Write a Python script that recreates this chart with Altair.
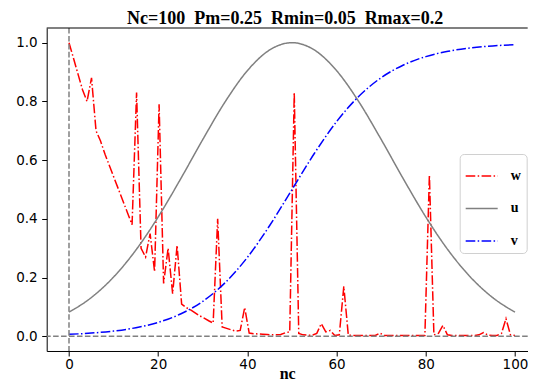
import altair as alt
import numpy as np
import pandas as pd

# x grid of the w series (100 samples between 0 and 100)
nc = [round(float(t), 4) for t in np.linspace(0, 100, 100)]
w = [1.0, 0.947, 0.893, 0.84, 0.80, 0.88, 0.70, 0.665, 0.62, 0.58,
     0.54, 0.50, 0.46, 0.42, 0.38, 0.83, 0.30, 0.27, 0.35, 0.22,
     0.79, 0.18, 0.30, 0.145, 0.31, 0.11, 0.098, 0.09, 0.08, 0.07,
     0.062, 0.053, 0.045, 0.40, 0.032, 0.027, 0.022, 0.018, 0.02, 0.098,
     0.011, 0.009, 0.008, 0.007, 0.006, 0.005, 0.005, 0.006, 0.012, 0.015,
     0.83, 0.01, 0.005, 0.004, 0.004, 0.01, 0.043, 0.015, 0.02, 0.003,
     0.005, 0.17, 0.004, 0.003, 0.003, 0.003, 0.003, 0.003, 0.003, 0.011,
     0.003, 0.003, 0.003, 0.003, 0.003, 0.003, 0.003, 0.003, 0.003, 0.003,
     0.55, 0.005, 0.01, 0.037, 0.005, 0.003, 0.003, 0.003, 0.003, 0.003,
     0.003, 0.005, 0.013, 0.004, 0.003, 0.003, 0.01, 0.06, 0.005, 0.003]

nc5 = [0, 5, 10, 15, 20, 25, 30, 35, 40, 45, 50, 55, 60, 65, 70, 75, 80, 85, 90, 95, 100]
u = [0.0821, 0.1320, 0.2019, 0.2938, 0.4066, 0.5353, 0.6703, 0.7985, 0.9048, 0.9753, 1.0,
     0.9753, 0.9048, 0.7985, 0.6703, 0.5353, 0.4066, 0.2938, 0.2019, 0.1320, 0.0821]
v = [0.0067, 0.0110, 0.0180, 0.0293, 0.0474, 0.0759, 0.1192, 0.1824, 0.2689, 0.3775, 0.5,
     0.6225, 0.7311, 0.8176, 0.8808, 0.9241, 0.9526, 0.9707, 0.9820, 0.9890, 0.9933]

series = ["w", "u", "v"]
colors = ["red", "gray", "blue"]
dashdot = [9.6, 2.4, 1.5, 2.4]
dashes = [dashdot, [1, 0], dashdot]
x_ticks = [0, 20, 40, 60, 80, 100]
y_ticks = [0.0, 0.2, 0.4, 0.6, 0.8, 1.0]
# non-breaking spaces keep the double spacing of the original title
title_text = "Nc=100\u00a0 Pm=0.25\u00a0 Rmin=0.05\u00a0 Rmax=0.2"

PX_PER_UNIT = 4.46
W = 481.0
H = 323

df_w = pd.DataFrame({"nc": nc, "val": w, "s": "w"})
df_uv = pd.concat([
    pd.DataFrame({"nc": nc5, "val": u, "s": "u"}),
    pd.DataFrame({"nc": nc5, "val": v, "s": "v"}),
])

xs = alt.Scale(domain=[-5, -5 + W / PX_PER_UNIT], nice=False, zero=False)
ys = alt.Scale(domain=[-0.05, 1.05], nice=False, zero=False)

leg = alt.Legend(
    title=None, orient="none", legendX=413, legendY=126,
    symbolType="stroke", symbolSize=1024, symbolStrokeWidth=1.5,
    labelFont="Liberation Serif", labelFontWeight="bold", labelFontSize=14,
    labelColor="black", labelOffset=12, padding=5, rowPadding=8.5,
    fillColor="white", strokeColor="#d0d0d0", cornerRadius=4,
)

xaxis = alt.Axis(values=x_ticks, format="d", title="nc", grid=False,
                 titleFont="Liberation Serif", titleFontWeight="bold", titleFontSize=16,
                 titleColor="black", titleBaseline="alphabetic", titleY=27.5,
                 labelFont="DejaVu Sans", labelFontSize=13.5, labelColor="black",
                 labelPadding=2, tickSize=5, tickColor="black", tickWidth=1,
                 domain=True, domainColor="black", domainWidth=1)
yaxis = alt.Axis(values=y_ticks, format=".1f", title=None, grid=False,
                 labelFont="DejaVu Sans", labelFontSize=13.5, labelColor="black",
                 labelPadding=4.5, tickSize=5, tickColor="black", tickWidth=1,
                 domain=True, domainColor="black", domainWidth=1)

color = alt.Color("s:N", scale=alt.Scale(domain=series, range=colors), legend=leg)
sdash = alt.StrokeDash("s:N", scale=alt.Scale(domain=series, range=dashes), legend=leg)

line_w = alt.Chart(df_w).mark_line(strokeWidth=1.5).encode(
    x=alt.X("nc:Q", scale=xs, axis=xaxis),
    y=alt.Y("val:Q", scale=ys, axis=yaxis),
    color=color, strokeDash=sdash,
)
line_uv = alt.Chart(df_uv).mark_line(strokeWidth=1.5, interpolate="monotone").encode(
    x=alt.X("nc:Q", scale=xs, axis=xaxis),
    y=alt.Y("val:Q", scale=ys, axis=yaxis),
    color=color, strokeDash=sdash, order=alt.Order("nc:Q"),
)

vrule = alt.Chart(pd.DataFrame({"x0": [0]})).mark_rule(
    color="gray", strokeWidth=1.5, strokeDash=[5.55, 2.4]
).encode(x=alt.X("x0:Q", scale=xs))
hrule = alt.Chart(pd.DataFrame({"y0": [0]})).mark_rule(
    color="gray", strokeWidth=1.5, strokeDash=[5.55, 2.4]
).encode(y=alt.Y("y0:Q", scale=ys))
top_spine = alt.Chart(pd.DataFrame({"k": [0]})).mark_rule(
    color="black", strokeWidth=1
).encode(y=alt.value(0), x=alt.value(0), x2=alt.value(W))

chart = alt.layer(line_w, line_uv, vrule, hrule, top_spine).properties(
    width=W, height=H,
    title=alt.TitleParams(title_text, font="Liberation Serif", fontWeight="bold",
                          fontSize=18, color="black", anchor="middle",
                          offset=-0.5, dx=-2),
    padding={"left": 38.7, "top": 20, "right": 0, "bottom": 32},
    autosize=alt.AutoSizeParams(type="none"),
).configure_view(stroke=None)

chart.save("out.html", embed_options={"renderer": "svg", "actions": False})
